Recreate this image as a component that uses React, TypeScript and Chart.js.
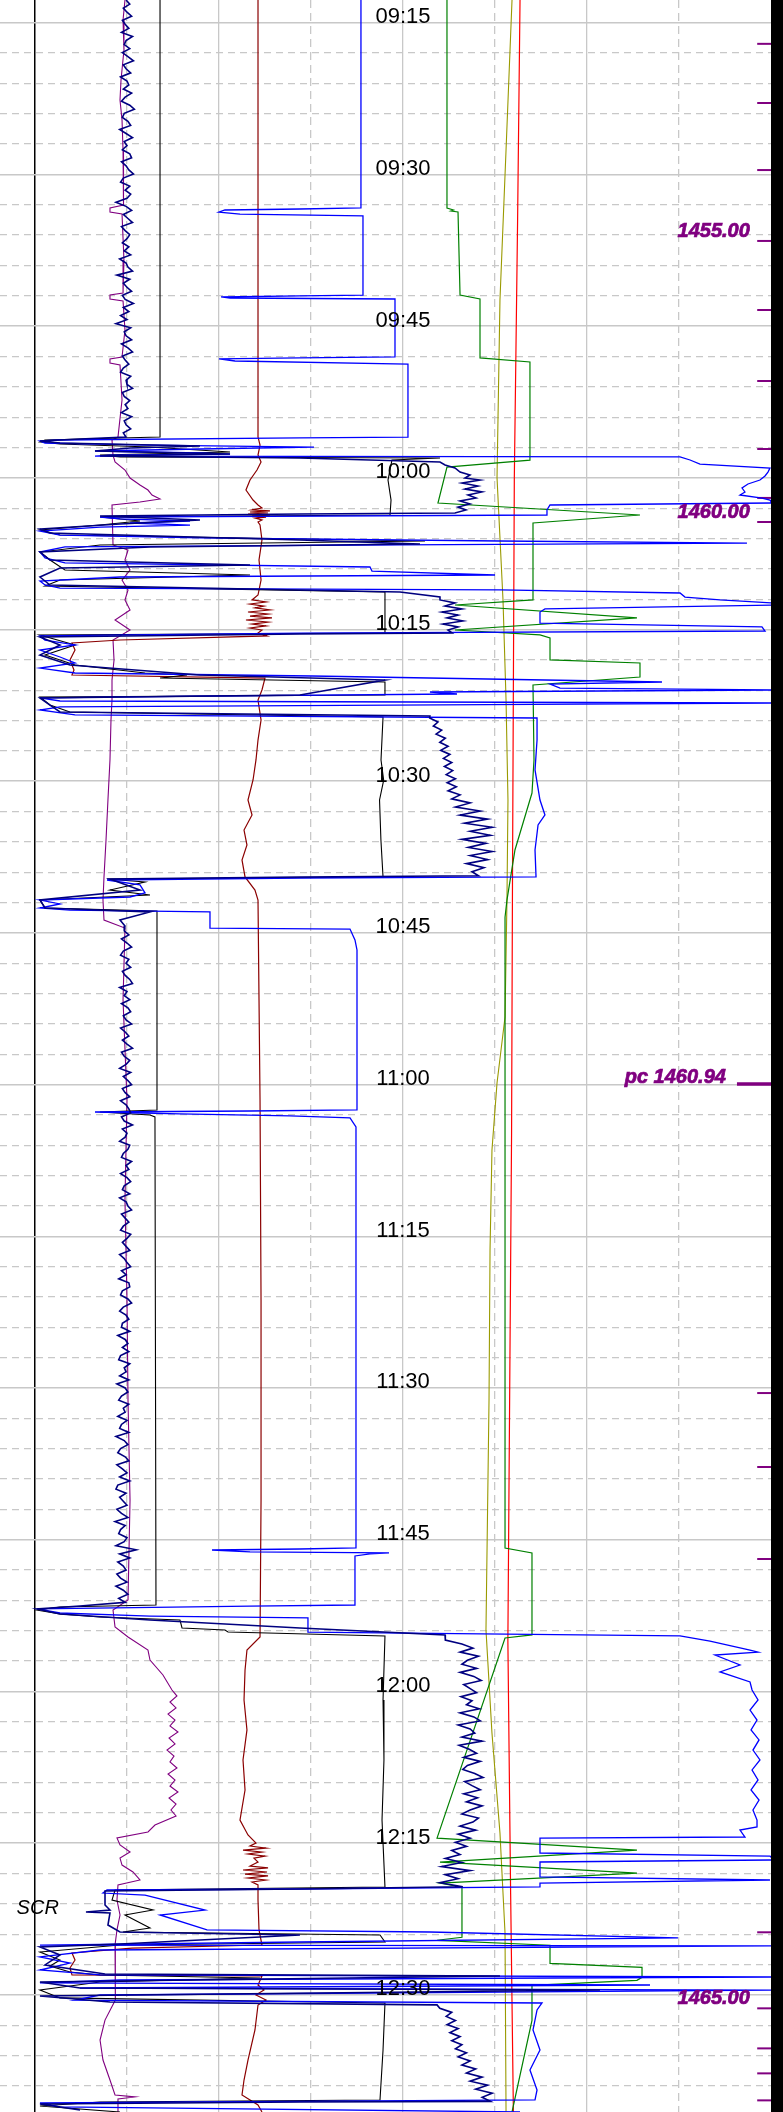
import React, { useEffect, useRef } from 'react';
import { Chart, registerables } from 'chart.js';

Chart.register(...registerables);

// y axis: minutes after 09:00 ; x axis: track units (one grid division = 10 units)
const T_MIN = 12.755;
const T_MAX = 221.59;
const X_MIN = -3.804;
const X_MAX = 80;

const TIME_TICKS = [15, 30, 45, 60, 75, 90, 105, 120, 135, 150, 165, 180, 195, 210];
const TIME_LABELS = ['09:15', '09:30', '09:45', '10:00', '10:15', '10:30', '10:45', '11:00', '11:15', '11:30', '11:45', '12:00', '12:15', '12:30'];
const MINOR_TIME_TICKS = [18, 21, 24, 27, 33, 36, 39, 42, 48, 51, 54, 57, 63, 66, 69, 72, 78, 81, 84, 87, 93, 96, 99, 102, 108, 111, 114, 117, 123, 126, 129, 132, 138, 141, 144, 147, 153, 156, 159, 162, 168, 171, 174, 177, 183, 186, 189, 192, 198, 201, 204, 207, 213, 216, 219];
const X_SOLID = [0, 20, 40, 60];
const X_DASHED = [10, 30, 50, 70];

// depth markers (m) and the time they were reached
const DEPTH_VALUES = [1452, 1453, 1454, 1455, 1456, 1457, 1458, 1459, 1460, 1461, 1462, 1463, 1464, 1465, 1466, 1467, 1468];
const DEPTH_TIMES = [17.09, 22.94, 29.57, 36.58, 43.41, 50.43, 57.15, 61.99, 64.37, 150.5, 157.81, 166.91, 203.82, 211.34, 215.3, 217.77, 220.44];
const PC_DEPTH = 1460.94;
const PC_TIME = 119.94;
const SCR_TIME = 202.0;
const SCR_X = -2.0;

type P = [number, number]; // [minutes, track value]

const RED: P[] = [[12.76, 52.72], [35, 52.45], [60.0, 52.1], [100, 51.9], [125, 51.8], [150, 51.6], [175, 51.4], [200, 51.7], [221.59, 52.0]];

const OLIVE: P[] = [[12.76, 51.85], [27.59, 51.2], [42.42, 50.54], [60.0, 50.22], [72.08, 50.87], [81.97, 51.2], [91.87, 51.41], [101.76, 51.3], [113.32, 51.09], [119.84, 50.22], [126.47, 49.67], [136.36, 49.46], [151.19, 49.35], [173.93, 49.02], [184.12, 49.67], [194.01, 50.54], [203.89, 51.09], [221.59, 51.2]];

const GREEN: P[] = [[12.76, 44.78], [33.32, 44.78], [33.52, 45.5], [33.62, 45.2], [33.72, 45.98], [41.93, 46.2], [42.32, 48.37], [48.15, 48.37], [48.55, 53.8], [58.25, 53.8], [58.94, 44.78], [62.49, 43.8], [63.68, 65.76], [64.47, 54.13], [72.08, 54.13], [72.58, 45.65], [73.86, 65.43], [75.05, 45.65], [75.54, 54.89], [75.84, 55.98], [78.01, 55.98], [78.31, 65.76], [79.7, 65.76], [80.49, 54.13], [87.9, 54.24], [91.17, 54.02], [96.8, 52.17], [101.76, 51.3], [103.45, 51.09], [165.82, 51.09], [166.31, 54.02], [174.42, 54.02], [174.72, 51.09], [194.51, 43.7], [195.7, 65.43], [196.88, 44.02], [197.97, 65.43], [198.96, 44.02], [199.36, 46.41], [204.31, 46.41], [204.61, 43.7], [205.1, 55.98], [206.89, 55.98], [207.29, 65.98], [208.28, 65.98], [208.57, 65.43], [209.07, 54.02], [212.53, 54.02], [221.59, 51.85]];

const BLACK: P[] = [[12.76, 13.59], [55.97, 13.59], [56.06, 9.24], [56.26, 1.09], [56.46, 0.54], [56.66, 2.72], [56.96, 12.5], [57.45, 21.2], [57.75, 7.07], [57.94, 9.24], [58.04, 44.02], [58.24, 38.8], [60.22, 38.37], [62.2, 38.7], [63.68, 38.59], [63.88, 7.07], [64.27, 11.41], [64.67, 7.07], [65.16, 0.54], [65.66, 2.72], [66.25, 42.39], [66.64, 7.07], [67.34, 0.54], [68.13, 1.63], [69.12, 3.26], [69.61, 23.37], [70.11, 2.72], [70.7, 1.09], [71.29, 38.04], [75.35, 38.04], [75.54, 0.54], [76.53, 4.35], [77.52, 1.09], [78.51, 4.35], [79.3, 11.96], [79.5, 16.52], [79.8, 13.59], [80.19, 38.04], [81.48, 38.04], [81.67, 0.54], [82.47, 1.63], [83.16, 3.8], [83.65, 37.83], [87.9, 37.61], [89.9, 37.9], [91.86, 37.45], [95.81, 37.6], [99.47, 37.83], [99.67, 7.83], [99.97, 11.96], [100.76, 8.15], [101.26, 12.5], [101.75, 0.54], [102.54, 1.09], [102.84, 13.26], [122.51, 13.26], [122.71, 7.07], [123.0, 12.5], [123.2, 13.04], [171.46, 13.15], [171.65, 2.72], [171.95, 0.22], [172.35, 2.72], [172.64, 7.07], [172.94, 15.76], [173.73, 15.98], [173.93, 20.65], [174.13, 20.98], [174.52, 38.04], [180.85, 37.83], [186.78, 37.93], [192.72, 37.72], [199.34, 38.04], [199.64, 8.7], [200.63, 8.37], [201.62, 12.83], [202.11, 9.78], [203.4, 12.5], [203.79, 9.57], [204.09, 37.5], [204.78, 38.04], [205.08, 9.24], [205.77, 0.54], [206.56, 2.72], [207.15, 1.63], [207.75, 3.8], [208.04, 7.07], [208.34, 24.46], [208.73, 7.07], [209.53, 0.54], [210.31, 2.72], [210.81, 38.04], [215.46, 37.83], [220.4, 37.5], [220.6, 7.07], [221.0, 0.54], [221.59, 9.24]];

const MAROON: P[] = [[12.76, 24.24], [55.97, 24.24], [56.76, 24.46], [57.75, 24.24], [58.44, 24.57], [59.23, 24.13], [60.22, 23.37], [61.21, 22.93], [62.2, 23.7], [62.69, 24.24],
  [62.99, 24.67], [63.18, 23.59], [63.28, 25.54], [63.38, 23.37], [63.48, 25.33], [63.58, 23.15], [63.68, 25.54], [63.78, 23.59], [63.88, 25.11], [63.98, 23.91], [64.17, 24.67], [64.37, 24.24], [64.67, 24.46],
  [66.15, 24.67], [68.13, 24.35], [70.11, 24.57], [71.59, 24.24],
  [72.08, 23.59], [72.28, 25.11], [72.48, 23.37], [72.68, 24.89], [72.87, 23.91], [73.07, 25.54], [73.27, 23.15], [73.47, 25.33], [73.67, 23.37], [73.86, 25.76], [74.06, 22.93], [74.26, 25.33], [74.46, 23.59], [74.65, 25.11], [74.85, 23.37], [75.05, 24.67], [75.35, 24.24],
  [75.64, 25.22], [76.04, 9.24], [76.33, 4.02], [77.03, 4.35], [78.02, 3.8], [79.0, 4.24], [79.5, 4.02], [79.8, 25.0],
  [80.98, 24.67], [81.97, 24.24], [83.95, 24.57], [85.93, 24.24], [87.9, 24.02], [89.88, 23.7], [91.86, 23.15], [93.34, 23.59], [94.83, 22.72], [96.31, 23.04], [97.79, 22.5], [99.47, 22.83], [100.76, 23.91], [101.75, 24.24],
  [111.64, 24.35], [121.52, 24.46], [141.3, 24.57], [161.07, 24.57], [174.62, 24.46],
  [175.91, 23.04], [177.88, 22.83], [180.85, 22.72], [183.81, 23.04], [186.78, 22.61], [189.75, 22.83], [192.72, 22.28], [194.2, 23.15], [194.99, 24.02],
  [195.29, 23.37], [195.49, 25.11], [195.69, 22.61], [195.88, 24.67], [196.08, 23.15], [196.28, 25.0], [196.48, 23.8], [196.87, 24.24], [197.27, 23.37], [197.46, 25.33], [197.66, 22.61], [197.86, 25.22], [198.06, 22.83], [198.25, 25.33], [198.45, 23.15], [198.65, 25.11], [198.85, 23.59], [199.14, 24.24],
  [200.63, 24.24], [203.59, 24.35], [205.08, 24.67], [205.38, 10.54], [205.87, 4.02], [206.56, 4.35], [207.35, 3.8], [208.04, 4.02], [208.14, 24.67],
  [209.03, 24.24], [209.53, 24.89], [210.02, 24.02], [210.52, 25.11], [211.01, 24.24], [213.48, 23.91], [216.45, 23.15], [218.43, 22.72], [219.91, 22.5], [220.9, 24.24], [221.59, 24.67]];

const PURPLE: P[] = [[12.76, 9.78], [14.73, 9.57], [17.7, 9.67], [20.67, 9.35], [22.64, 9.24], [24.62, 9.46], [27.59, 9.57], [30.55, 9.67], [33.03, 9.57], [33.32, 8.15], [33.72, 8.15], [33.92, 9.46], [38.46, 9.67], [41.73, 9.57], [41.93, 8.15], [42.32, 8.15], [42.52, 9.57], [45.39, 9.78], [48.05, 9.46], [48.25, 8.15], [48.65, 8.15], [48.85, 9.24], [52.31, 9.46], [55.97, 9.02],
  [56.26, 8.37], [57.75, 8.48], [58.44, 8.7], [59.23, 9.78], [60.02, 10.33], [60.71, 11.41], [61.21, 12.28], [61.7, 12.72], [62.1, 13.59], [62.39, 11.41], [62.69, 8.37], [66.64, 8.48], [67.14, 10.11], [68.13, 9.78], [69.12, 10.33], [70.11, 9.46], [71.09, 10.11], [72.08, 9.78], [73.07, 10.33], [74.06, 8.7], [75.05, 10.33], [76.04, 8.48], [78.02, 8.59], [80.0, 8.37], [81.97, 8.37], [83.95, 8.26], [87.9, 8.15], [91.86, 7.93], [95.81, 7.72], [99.47, 7.5], [101.75, 7.39], [103.73, 7.5], [104.52, 9.78],
  [111.64, 9.57], [121.52, 10.0], [131.41, 9.78], [141.3, 10.0], [151.19, 10.11], [161.07, 10.33], [170.96, 10.11], [171.95, 8.48], [173.63, 8.7], [174.62, 10.11], [175.91, 12.28], [176.9, 12.5], [178.38, 13.91],
  [179.86, 14.89], [180.46, 15.43], [181.05, 14.67], [181.64, 15.33], [182.24, 14.46], [182.83, 15.22], [183.42, 14.67], [184.02, 15.54], [184.61, 14.57], [185.2, 15.22], [185.8, 14.35], [186.39, 15.11], [186.98, 14.67], [187.58, 15.43], [188.17, 14.46], [188.76, 15.22], [189.36, 14.67], [189.95, 15.54], [190.54, 14.57], [191.14, 15.33], [191.73, 14.78], [192.32, 15.33],
  [193.21, 13.04], [193.9, 12.28], [194.5, 8.91], [195.19, 9.24], [195.88, 10.33], [196.48, 9.24], [197.17, 9.46], [197.86, 10.65], [198.65, 11.41], [199.14, 9.02], [200.63, 8.91], [202.11, 9.24], [203.59, 8.91], [205.08, 8.7], [206.56, 8.7], [208.53, 8.8], [210.52, 8.7], [212.5, 7.61], [214.47, 7.07], [216.45, 7.39], [218.43, 8.15], [219.91, 8.7], [220.1, 10.87], [220.3, 9.02], [221.59, 9.02]];

const BLUE: P[] = [[12.76, 35.43], [33.32, 35.43], [33.42, 28.8], [33.52, 20.65], [33.72, 20.0], [33.92, 22.28], [34.11, 35.65],
  [41.93, 35.65], [42.02, 28.8], [42.12, 20.22], [42.22, 21.2], [42.32, 39.13],
  [48.05, 39.13], [48.15, 28.8], [48.25, 20.0], [48.45, 21.74], [48.75, 40.54],
  [55.97, 40.54], [56.06, 28.8], [56.26, 2.72], [56.36, 0.54], [56.56, 1.09], [56.76, 12.5], [56.96, 30.33], [57.15, 17.93], [57.35, 6.52], [57.55, 17.93], [57.65, 21.2], [57.75, 8.15], [57.85, 6.52], [57.94, 70.11], [58.24, 71.2], [58.64, 72.28], [59.03, 79.89],
  [59.43, 79.67], [59.82, 79.35], [60.22, 78.8], [60.61, 77.5], [61.01, 76.85], [61.4, 77.17], [61.7, 76.63], [62.0, 79.02], [62.2, 79.89], [62.49, 80.11],
  [62.69, 55.98], [63.18, 55.65], [63.68, 55.65], [63.88, 7.07], [64.07, 9.24], [64.27, 16.85], [64.47, 10.33], [64.67, 16.85], [64.87, 7.07], [65.26, 0.54], [65.66, 2.72], [65.95, 17.93], [66.25, 50.54], [66.45, 77.39], [66.64, 39.67], [66.84, 3.26], [67.34, 0.54], [67.93, 1.09], [68.42, 3.26], [68.82, 36.41], [69.22, 36.63], [69.61, 50.0], [69.81, 9.24], [70.21, 0.54], [70.6, 1.09], [70.9, 2.72], [71.09, 50.54], [71.39, 70.11], [71.79, 70.65], [72.08, 74.46], [72.38, 80.43], [72.58, 80.33], [72.97, 55.43], [73.27, 54.89], [74.36, 54.89], [74.75, 79.02], [75.15, 79.35], [75.35, 28.8], [75.64, 0.54], [76.04, 1.09], [76.53, 4.35], [77.03, 0.54], [77.72, 2.72], [78.31, 4.35], [78.81, 0.54], [79.3, 4.35], [79.6, 30.11], [80.19, 68.15], [80.39, 55.98], [80.79, 57.07], [80.98, 80.33], [81.18, 42.93], [81.38, 45.87], [81.58, 17.93], [81.77, 0.54], [82.07, 2.72], [82.27, 80.33], [82.66, 2.72], [82.96, 0.54], [83.45, 4.35], [83.75, 54.57],
  [85.93, 54.57], [88.89, 54.35], [91.86, 54.89], [93.34, 55.43], [94.33, 54.68], [96.8, 54.35], [99.47, 54.46],
  [99.57, 28.8], [99.77, 7.83], [100.26, 11.41], [101.05, 11.96], [101.45, 10.33], [101.75, 0.54], [102.14, 2.72], [102.54, 0.54], [102.74, 3.8], [102.93, 19.02], [104.52, 19.02], [104.62, 34.24], [105.7, 34.78], [106.69, 35.0],
  [122.51, 35.0], [122.61, 23.37], [122.71, 6.52], [122.9, 15.76], [123.1, 27.72], [123.3, 34.24], [124.19, 34.89],
  [165.82, 34.89], [165.92, 28.8], [166.02, 19.24], [166.21, 23.37], [166.31, 38.48], [166.41, 36.41], [166.61, 34.78],
  [171.46, 34.78], [171.56, 23.37], [171.85, 0.22], [172.25, 2.72], [172.55, 12.5], [172.74, 29.67], [174.14, 29.67], [174.52, 70.11],
  [175.02, 73.37], [175.91, 77.72], [176.11, 78.59], [176.4, 73.91], [177.39, 76.63], [178.08, 74.46], [179.07, 77.72],
  [179.86, 77.94], [180.85, 78.59], [181.84, 77.72], [182.83, 78.48], [183.81, 77.83], [184.8, 78.7], [185.8, 78.04], [186.78, 78.8], [187.77, 77.94], [188.76, 78.59], [189.75, 77.83], [190.74, 78.7], [191.73, 78.04], [192.72, 78.48], [193.41, 78.48],
  [193.71, 76.63], [194.4, 77.17], [194.5, 54.89], [195.98, 54.89], [196.28, 79.89], [196.67, 80.33], [196.87, 54.89], [198.35, 54.89], [198.65, 79.89], [198.95, 54.89], [199.34, 54.89],
  [199.54, 28.8], [199.64, 7.83], [199.94, 7.39], [200.14, 11.96], [201.62, 18.48], [202.11, 13.59], [203.59, 18.7], [203.79, 42.93], [204.38, 69.89], [204.78, 28.8], [205.08, 0.54], [205.17, 80.33], [205.57, 7.07], [206.26, 0.54], [206.86, 3.8], [207.55, 0.54], [208.04, 7.07], [208.24, 80.33], [208.54, 9.24], [208.83, 0.54], [209.03, 66.85], [209.33, 4.89], [209.53, 80.33], [210.02, 7.07], [210.52, 4.35], [210.81, 55.11],
  [211.5, 54.57], [213.48, 54.13], [215.46, 54.89], [217.43, 53.8], [219.41, 54.57], [220.4, 54.35], [220.7, 0.54], [221.09, 2.72], [221.59, 52.72]];

// navy: noisy sampled runs (0.4 min spacing) joined by sweep points
const NAVY_DRILL_A_START = 12.76;
const NAVY_DRILL_A = [9.9, 10.3, 9.6, 10.0, 10.5, 9.5, 9.8, 10.2, 9.4, 10.6, 9.9, 9.7, 10.3, 9.5, 10.1, 10.7, 9.6, 9.9, 10.4, 9.3,
  10.0, 10.2, 9.6, 10.5, 9.8, 9.4, 10.3, 10.8, 9.7, 9.5, 10.1, 10.4, 9.2, 9.9, 10.6, 9.7, 10.0, 9.5, 10.3, 10.5,
  9.4, 9.9, 10.2, 10.7, 9.6, 9.3, 10.3, 9.8, 10.4, 10.0, 8.8, 9.9, 10.5, 9.6, 10.1, 10.6, 9.4, 9.8, 10.3, 10.0,
  9.5, 10.2, 9.7, 10.4, 9.2, 9.9, 10.1, 10.6, 8.9, 10.3, 9.6, 10.0, 10.5, 9.5, 9.8, 10.7, 9.6, 10.2, 9.3, 10.0,
  8.8, 10.4, 9.7, 9.9, 10.5, 9.4, 10.1, 10.6, 9.5, 9.8, 10.2, 9.6, 9.3, 10.4, 9.9, 10.0, 10.6, 9.5, 9.7, 10.3,
  9.8, 10.1, 9.4, 10.5, 9.7, 9.9, 10.4, 9.6];
const NAVY_SWEEP_A: P[] = [[55.97, 9.89], [56.16, 4.89], [56.36, 0.54], [56.56, 2.72], [56.86, 17.93], [57.05, 10.33], [57.35, 6.52], [57.65, 21.2], [57.85, 7.07], [58.04, 28.8], [58.44, 44.02]];
const NAVY_CIRC_A: P[] = [[58.73, 44.57], [59.03, 45.65], [59.43, 46.2], [59.72, 47.28], [60.02, 46.74], [60.22, 48.37], [60.51, 46.41], [60.81, 48.15], [61.11, 46.74], [61.4, 48.59], [61.7, 47.07], [62.0, 47.93], [62.29, 46.2], [62.59, 47.28], [62.89, 45.98], [63.18, 46.85], [63.48, 45.65]];
const NAVY_SWEEP_B: P[] = [[63.58, 28.8], [63.78, 7.07], [64.17, 17.93], [64.57, 9.24], [65.06, 0.54], [65.46, 1.63], [66.15, 28.8], [66.55, 41.85], [66.84, 12.5], [67.34, 0.54], [68.13, 1.63], [68.62, 23.37], [68.92, 2.72], [69.81, 0.54], [70.6, 1.63], [71.29, 39.67], [71.79, 44.02]];
const NAVY_CIRC_B: P[] = [[72.08, 44.02], [72.38, 45.65], [72.68, 44.57], [72.97, 46.41], [73.27, 44.24], [73.57, 45.98], [73.86, 44.78], [74.16, 46.52], [74.46, 44.35], [74.75, 45.98], [75.05, 44.89], [75.35, 45.33]];
const NAVY_SWEEP_C: P[] = [[75.45, 28.8], [75.74, 0.54], [76.53, 2.72], [77.52, 0.54], [78.51, 3.8], [79.5, 17.93], [79.99, 38.04], [81.48, 28.8], [81.77, 0.54], [82.47, 1.63], [83.16, 2.72], [83.56, 42.93]];
const NAVY_CIRC_C_START = 83.75;
const NAVY_CIRC_C = [42.9, 43.8, 43.3, 44.2, 43.6, 44.6, 44.0, 44.9, 44.1, 45.1, 44.4, 45.3, 44.5, 45.4, 44.7, 45.7, 44.8, 45.8, 44.9, 46.2, 45.3, 47.3, 45.7, 48.4, 46.2, 49.2, 46.7, 49.7, 47.3, 49.5, 46.4, 49.0, 47.1, 49.7, 47.3, 49.2, 46.9, 48.8, 47.5, 48.2];
const NAVY_SWEEP_D: P[] = [[99.47, 28.8], [99.67, 8.15], [100.76, 11.41], [101.75, 0.54], [102.54, 1.09], [102.93, 12.5], [103.73, 9.24], [104.32, 9.78]];
const NAVY_DRILL_B_START = 104.8;
const NAVY_DRILL_B = [9.7, 10.2, 9.4, 10.0, 10.5, 9.6, 9.3, 10.2, 9.9, 10.4, 9.5, 9.8, 10.3, 10.6, 9.2, 10.0, 9.7, 10.3, 9.4, 10.1,
  10.4, 9.6, 9.9, 10.5, 9.3, 9.8, 10.2, 9.5, 10.0, 10.6, 9.4, 9.7, 10.3, 9.9, 9.2, 10.4, 9.6, 10.1, 10.5, 9.5,
  9.8, 10.3, 9.3, 9.9, 10.2, 10.4, 9.4, 9.7, 10.6, 9.5, 10.0, 9.8, 9.2, 10.3, 10.1, 9.6, 9.4, 10.5, 9.9, 10.2,
  9.3, 10.0, 10.4, 9.7, 9.5, 10.3, 9.2, 9.9, 10.1, 10.5, 9.4, 9.8, 10.2, 9.6, 9.3, 10.4, 10.0, 9.5, 9.9, 10.3,
  9.2, 9.7, 10.0, 10.4, 9.4, 9.9, 9.1, 10.2, 10.3, 9.5, 9.3, 10.1, 10.5, 9.6, 9.2, 9.9, 10.2, 9.5, 9.4, 10.3,
  9.0, 9.8, 10.1, 9.5, 10.2, 9.3, 9.1, 10.3, 9.7, 9.9, 9.2, 10.2, 8.9, 9.8, 10.1, 9.4, 9.1, 10.2, 9.6, 9.8,
  9.0, 10.0, 9.4, 9.2, 10.2, 8.8, 9.7, 10.1, 9.3, 9.0, 9.8, 10.2, 8.9, 9.5, 10.0, 9.2, 10.3, 9.0, 8.8, 9.9,
  9.2, 9.6, 10.0, 8.9, 9.4, 10.1, 8.7, 9.8, 9.3, 9.1, 10.0, 9.7, 8.8, 11.0, 9.2, 10.3, 9.0, 9.6, 9.9, 8.9,
  9.3, 10.0, 8.8, 9.6, 10.1, 9.1, 9.8];
const NAVY_SWEEP_E: P[] = [[171.56, 4.89], [171.85, 0.22], [172.35, 2.72], [172.94, 12.5], [173.73, 28.8], [174.42, 44.57]];
const NAVY_CIRC_D_START = 174.92;
const NAVY_CIRC_D = [44.6, 46.4, 47.6, 46.2, 48.2, 47.0, 46.4, 48.0, 46.2, 47.7, 48.5, 46.6, 47.3, 48.0, 46.3, 47.5, 46.9, 48.3, 46.2, 47.7,
  48.4, 46.0, 47.3, 47.8, 46.4, 48.6, 46.1, 47.2, 48.0, 46.6, 48.4, 47.0, 46.5, 47.8, 48.7, 46.7, 47.5, 48.4, 46.6, 48.1,
  46.9, 48.6, 47.3, 46.4, 48.2, 47.6, 46.2, 47.9, 46.0, 47.3, 45.7, 46.9, 45.3, 46.2, 44.6, 46.4, 44.2, 47.3, 44.6, 46.0,
  44.0, 46.5];
const NAVY_SWEEP_F: P[] = [[199.54, 28.8], [199.74, 7.61], [201.12, 7.61], [201.62, 8.15], [201.82, 5.54], [201.91, 8.15], [203.1, 7.93], [203.79, 9.24], [204.09, 28.8], [204.98, 9.24], [205.27, 0.54], [206.06, 2.72], [207.05, 1.09], [207.94, 7.61], [208.14, 50.54], [208.73, 0.54], [209.33, 4.89], [209.53, 61.41], [210.12, 0.54], [210.71, 8.15], [211.0, 43.7]];
const NAVY_CIRC_E_START = 211.34;
const NAVY_CIRC_E = [44.0, 45.3, 44.7, 45.7, 44.8, 46.0, 45.1, 46.2, 45.3, 46.4, 45.7, 46.9, 46.0, 47.3, 46.4, 47.9, 46.9, 48.6, 47.3, 49.2, 47.9, 49.7, 48.6, 49.5];
const NAVY_SWEEP_G: P[] = [[220.6, 28.8], [220.8, 0.54], [221.39, 4.89]];
const SAMPLE_STEP = 0.4;

const sampled = (t0: number, vals: number[]): P[] => vals.map((v, i) => [t0 + i * SAMPLE_STEP, v] as P);

const NAVY: P[] = [
  ...sampled(NAVY_DRILL_A_START, NAVY_DRILL_A), ...NAVY_SWEEP_A, ...NAVY_CIRC_A, ...NAVY_SWEEP_B, ...NAVY_CIRC_B,
  ...NAVY_SWEEP_C, ...sampled(NAVY_CIRC_C_START, NAVY_CIRC_C), ...NAVY_SWEEP_D, ...sampled(NAVY_DRILL_B_START, NAVY_DRILL_B),
  ...NAVY_SWEEP_E, ...sampled(NAVY_CIRC_D_START, NAVY_CIRC_D), ...NAVY_SWEEP_F, ...sampled(NAVY_CIRC_E_START, NAVY_CIRC_E), ...NAVY_SWEEP_G,
];

const pts = (arr: P[]) => arr.map(([t, v]) => ({ x: v, y: t }));
const line = (arr: P[], color: string, width: number) => ({
  data: pts(arr), borderColor: color, backgroundColor: color, borderWidth: width,
  pointRadius: 0, showLine: true, fill: false, tension: 0, xAxisID: 'x', yAxisID: 'y',
});

const PURPLE_TXT = '#800080';

const textPlugin = {
  id: 'logText',
  afterDatasetsDraw(chart: any) {
    const { ctx } = chart;
    const xs = chart.scales.x;
    const ys = chart.scales.y;
    ctx.save();
    ctx.fillStyle = '#000000';
    ctx.font = '22px "Liberation Sans", Arial, sans-serif';
    ctx.textAlign = 'center';
    ctx.textBaseline = 'alphabetic';
    TIME_TICKS.forEach((t, i) => ctx.fillText(TIME_LABELS[i], xs.getPixelForValue(40), ys.getPixelForValue(t) + 0.5));
    ctx.fillStyle = PURPLE_TXT;
    ctx.strokeStyle = PURPLE_TXT;
    ctx.lineWidth = 0.7;
    ctx.font = 'italic bold 20px "Liberation Sans", Arial, sans-serif';
    ctx.textAlign = 'right';
    DEPTH_VALUES.forEach((d, i) => {
      if (d % 5 === 0) {
        const px = xs.getPixelForValue(77.7);
        const py = ys.getPixelForValue(DEPTH_TIMES[i]) - 4;
        ctx.fillText(d.toFixed(2), px, py);
        ctx.strokeText(d.toFixed(2), px, py);
      }
    });
    const pcText = 'pc ' + PC_DEPTH.toFixed(2);
    ctx.fillText(pcText, xs.getPixelForValue(75.1), ys.getPixelForValue(PC_TIME) - 1);
    ctx.strokeText(pcText, xs.getPixelForValue(75.1), ys.getPixelForValue(PC_TIME) - 1);
    ctx.fillStyle = '#000000';
    ctx.font = 'italic 20px "Liberation Sans", Arial, sans-serif';
    ctx.textAlign = 'left';
    ctx.fillText('SCR', xs.getPixelForValue(SCR_X), ys.getPixelForValue(SCR_TIME));
    ctx.restore();
  },
};

const gridX = (ticks: number[], dashed: boolean) => ({
  type: 'linear', axis: 'x', position: 'bottom', min: X_MIN, max: X_MAX,
  afterBuildTicks: (s: any) => { s.ticks = ticks.map((v) => ({ value: v })); },
  ticks: { display: false },
  grid: {
    display: true, drawTicks: false, drawOnChartArea: true,
    color: (c: any) => (c.tick && c.tick.value === 0 ? '#000000' : '#c8c8c8'),
    lineWidth: (c: any) => (c.tick && c.tick.value === 0 ? 1.5 : 1.3),
  },
  border: { display: false, dash: dashed ? [8, 5] : [] },
});

const gridY = (ticks: number[], dashed: boolean) => ({
  type: 'linear', axis: 'y', position: 'left', min: T_MIN, max: T_MAX, reverse: true,
  afterBuildTicks: (s: any) => { s.ticks = ticks.map((v) => ({ value: v })); },
  ticks: { display: false },
  grid: { display: true, drawTicks: false, drawOnChartArea: true, color: '#c8c8c8', lineWidth: dashed ? 1.2 : 1.5 },
  border: { display: false, dash: dashed ? [7, 5] : [] },
});

export default function App() {
  const ref = useRef<HTMLCanvasElement>(null);
  useEffect(() => {
    const canvas = ref.current;
    if (!canvas) return;
    const datasets: any[] = [
      line(NAVY, '#000080', 1.6),
      line(BLUE, '#0000ff', 1.3),
      line(BLACK, '#000000', 1.1),
      line(MAROON, '#8b0000', 1.2),
      line(PURPLE, '#800080', 1.1),
      line(GREEN, '#008000', 1.2),
      line(RED, '#ff0000', 1.2),
      line(OLIVE, '#9a9a00', 1.1),
      ...DEPTH_TIMES.map((t) => line([[t, 78.5], [t, 80]], PURPLE_TXT, 2)),
      line([[PC_TIME, 76.3], [PC_TIME, 80]], PURPLE_TXT, 3.5),
    ];
    const chart = new Chart(canvas, {
      type: 'scatter',
      data: { datasets },
      options: {
        responsive: false,
        maintainAspectRatio: false,
        animation: false,
        devicePixelRatio: 1,
        events: [],
        layout: { padding: 0 },
        plugins: { legend: { display: false }, tooltip: { enabled: false } },
        scales: {
          x: { type: 'linear', min: X_MIN, max: X_MAX, display: false },
          y: { type: 'linear', min: T_MIN, max: T_MAX, reverse: true, display: false },
          xs: gridX(X_SOLID, false),
          xd: gridX(X_DASHED, true),
          ys: gridY(TIME_TICKS, false),
          yd: gridY(MINOR_TIME_TICKS, true),
        },
      } as any,
      plugins: [textPlugin],
    });
    return () => chart.destroy();
  }, []);
  return (
    <div style={{ position: 'absolute', left: 0, top: 0, width: 783, height: 2112, background: '#ffffff', overflow: 'hidden' }}>
      <canvas ref={ref} width={771} height={2112} style={{ position: 'absolute', left: 0, top: 0, width: 771, height: 2112, display: 'block' }} />
      <div style={{ position: 'absolute', left: 771, top: 0, width: 12, height: 2112, background: '#000000' }} />
    </div>
  );
}
